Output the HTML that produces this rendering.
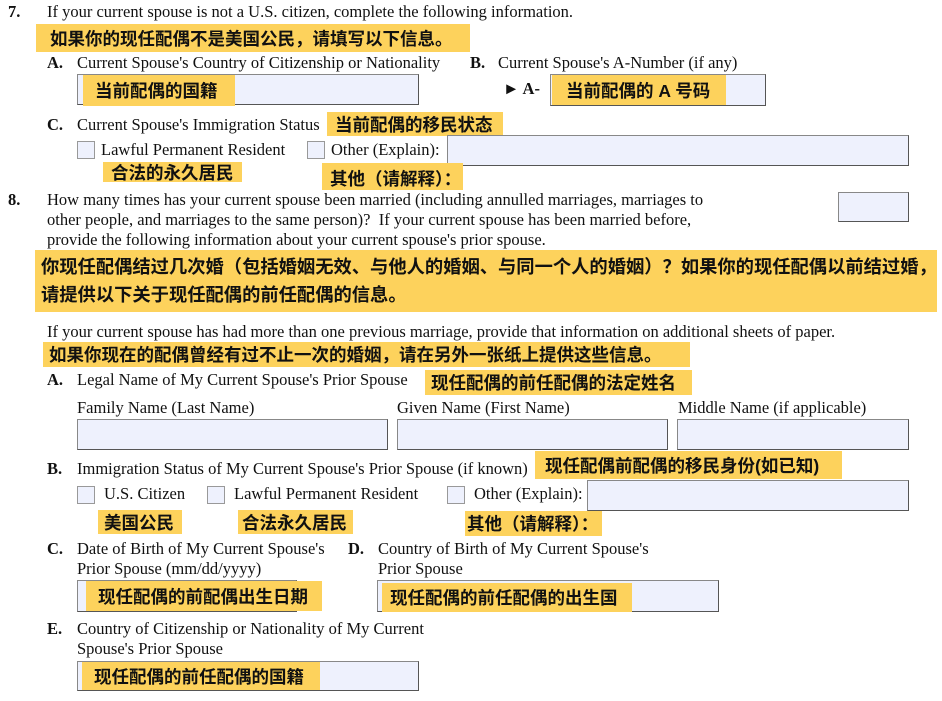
<!DOCTYPE html>
<html><head><meta charset="utf-8"><style>
body{margin:0;width:942px;height:701px;background:#fff;position:relative;overflow:hidden;font-family:"Liberation Serif",serif;font-size:16.5px;color:#111}
.t{position:absolute;white-space:nowrap;line-height:20px}
.b{font-weight:bold}
.h{position:absolute;background:#fdd25c;font-family:"Liberation Sans","Noto Sans CJK SC",sans-serif;font-weight:bold;font-size:17.5px;color:#111;white-space:nowrap;box-sizing:border-box;padding-left:8px;display:flex;align-items:center;overflow:hidden}
.box{position:absolute;background:#eef1fd;border:1px solid #555;border-top-color:#888;border-left-color:#888;box-sizing:border-box}
.cb{position:absolute;width:18px;height:18px;background:#eef1fd;border:1px solid #999;box-sizing:border-box}
</style></head><body>
<div class="t b" style="left:8px;top:2px">7.</div>
<div class="t" style="left:47px;top:2px">If your current spouse is not a U.S. citizen, complete the following information.</div>
<div class="h" style="left:36px;top:24px;width:434px;height:28px;padding-left:14px">如果你的现任配偶不是美国公民，请填写以下信息。</div>
<div class="t b" style="left:47px;top:53px">A.</div>
<div class="t" style="left:77px;top:53px">Current Spouse's Country of Citizenship or Nationality</div>
<div class="t b" style="left:470px;top:53px">B.</div>
<div class="t" style="left:498px;top:53px">Current Spouse's A-Number (if any)</div>
<div class="box" style="left:77px;top:74px;width:342px;height:31px"></div>
<div class="h" style="left:83px;top:75px;width:152px;height:31px;padding-left:12px">当前配偶的国籍</div>
<div class="t b" style="left:503px;top:79px">► A-</div>
<div class="box" style="left:550px;top:74px;width:216px;height:32px"></div>
<div class="h" style="left:552px;top:75px;width:174px;height:30px;padding-left:14px">当前配偶的 A 号码</div>
<div class="t b" style="left:47px;top:115px">C.</div>
<div class="t" style="left:77px;top:115px">Current Spouse's Immigration Status</div>
<div class="h" style="left:327px;top:112px;width:176px;height:24px">当前配偶的移民状态</div>
<div class="cb" style="left:77px;top:141px"></div>
<div class="t" style="left:101px;top:140px">Lawful Permanent Resident</div>
<div class="cb" style="left:307px;top:141px"></div>
<div class="t" style="left:331px;top:140px">Other (Explain):</div>
<div class="box" style="left:447px;top:135px;width:462px;height:31px"></div>
<div class="h" style="left:103px;top:162px;width:139px;height:20px">合法的永久居民</div>
<div class="h" style="left:322px;top:163px;width:141px;height:27px;padding-top:4px">其他（请解释）：</div>
<div class="t b" style="left:8px;top:190px">8.</div>
<div class="t" style="left:47px;top:190px;line-height:20px">How many times has your current spouse been married (including annulled marriages, marriages to<br>other people, and marriages to the same person)?&nbsp; If your current spouse has been married before,<br>provide the following information about your current spouse's prior spouse.</div>
<div class="box" style="left:838px;top:192px;width:71px;height:30px"></div>
<div class="h" style="left:35px;top:250px;width:902px;height:62px;padding-left:6px;display:block;line-height:28px;padding-top:3px;font-size:18.3px">你现任配偶结过几次婚（包括婚姻无效、与他人的婚姻、与同一个人的婚姻）？如果你的现任配偶以前结过婚，<br>请提供以下关于现任配偶的前任配偶的信息。</div>
<div class="t" style="left:47px;top:322px">If your current spouse has had more than one previous marriage, provide that information on additional sheets of paper.</div>
<div class="h" style="left:43px;top:342px;width:647px;height:25px;padding-left:6px">如果你现在的配偶曾经有过不止一次的婚姻，请在另外一张纸上提供这些信息。</div>
<div class="t b" style="left:47px;top:370px">A.</div>
<div class="t" style="left:77px;top:370px">Legal Name of My Current Spouse's Prior Spouse</div>
<div class="h" style="left:425px;top:370px;width:267px;height:25px;padding-left:6px">现任配偶的前任配偶的法定姓名</div>
<div class="t" style="left:77px;top:398px">Family Name (Last Name)</div>
<div class="t" style="left:397px;top:398px">Given Name (First Name)</div>
<div class="t" style="left:678px;top:398px">Middle Name (if applicable)</div>
<div class="box" style="left:77px;top:419px;width:311px;height:31px"></div>
<div class="box" style="left:397px;top:419px;width:271px;height:31px"></div>
<div class="box" style="left:677px;top:419px;width:232px;height:31px"></div>
<div class="t b" style="left:47px;top:459px">B.</div>
<div class="t" style="left:77px;top:459px">Immigration Status of My Current Spouse's Prior Spouse (if known)</div>
<div class="h" style="left:535px;top:451px;width:307px;height:28px;padding-left:10px">现任配偶前配偶的移民身份(如已知)</div>
<div class="cb" style="left:77px;top:486px"></div>
<div class="t" style="left:104px;top:484px">U.S. Citizen</div>
<div class="cb" style="left:207px;top:486px"></div>
<div class="t" style="left:234px;top:484px">Lawful Permanent Resident</div>
<div class="cb" style="left:447px;top:486px"></div>
<div class="t" style="left:474px;top:484px">Other (Explain):</div>
<div class="box" style="left:587px;top:480px;width:322px;height:31px"></div>
<div class="h" style="left:98px;top:510px;width:84px;height:24px;padding-left:6px">美国公民</div>
<div class="h" style="left:238px;top:510px;width:115px;height:24px;padding-left:4px">合法永久居民</div>
<div class="h" style="left:465px;top:511px;width:137px;height:25px;padding-left:2px">其他（请解释）：</div>
<div class="t b" style="left:47px;top:539px">C.</div>
<div class="t" style="left:77px;top:539px">Date of Birth of My Current Spouse's<br>Prior Spouse (mm/dd/yyyy)</div>
<div class="t b" style="left:348px;top:539px">D.</div>
<div class="t" style="left:378px;top:539px">Country of Birth of My Current Spouse's<br>Prior Spouse</div>
<div class="box" style="left:77px;top:580px;width:220px;height:32px"></div>
<div class="h" style="left:86px;top:581px;width:236px;height:30px;padding-left:12px">现任配偶的前配偶出生日期</div>
<div class="box" style="left:377px;top:580px;width:342px;height:32px"></div>
<div class="h" style="left:382px;top:583px;width:250px;height:29px;padding-left:8px">现任配偶的前任配偶的出生国</div>
<div class="t b" style="left:47px;top:619px">E.</div>
<div class="t" style="left:77px;top:619px">Country of Citizenship or Nationality of My Current<br>Spouse's Prior Spouse</div>
<div class="box" style="left:77px;top:661px;width:342px;height:30px"></div>
<div class="h" style="left:82px;top:662px;width:238px;height:28px;padding-left:12px">现任配偶的前任配偶的国籍</div>
</body></html>
